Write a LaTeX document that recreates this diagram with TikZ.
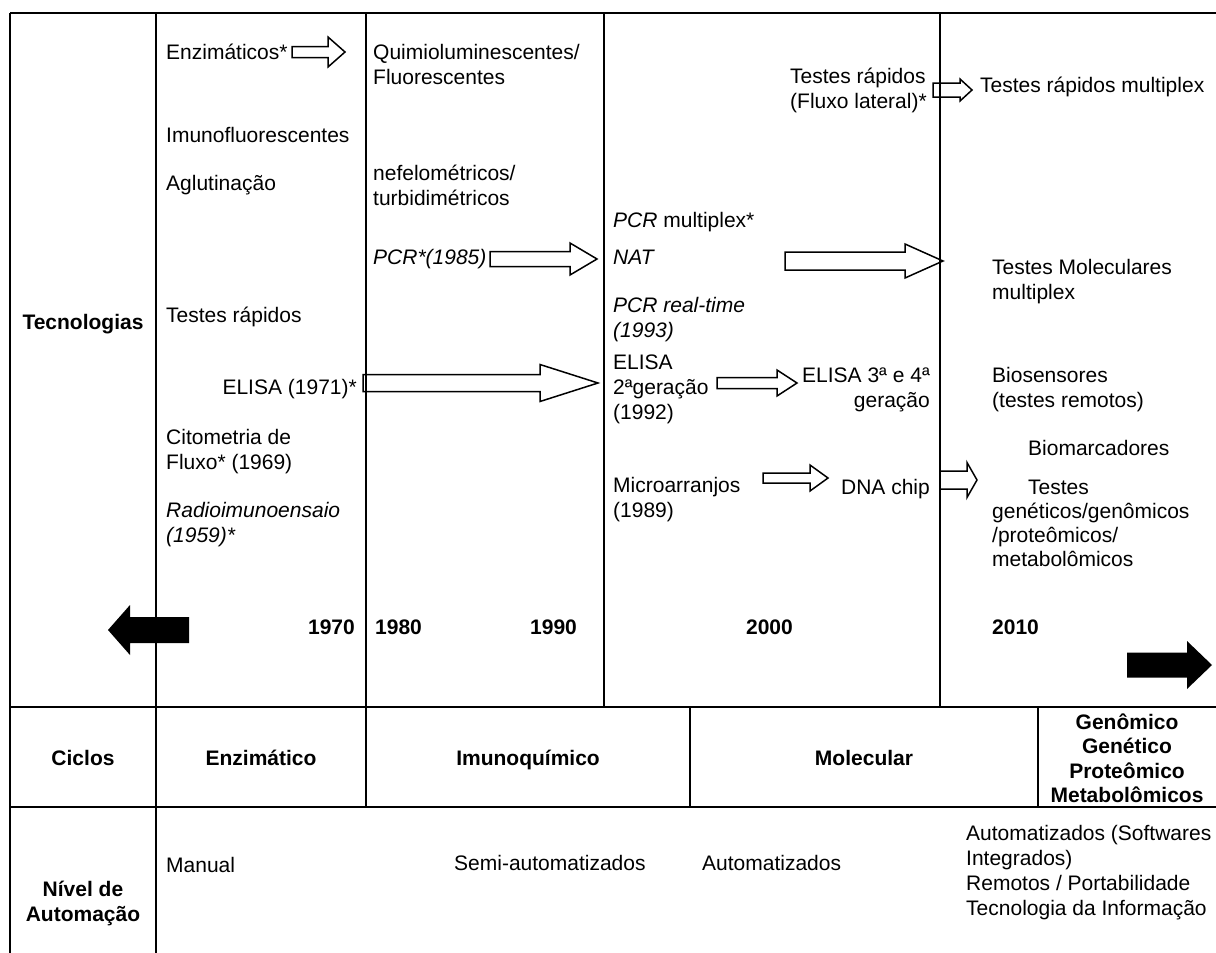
\documentclass[tikz,border=0pt]{standalone}
\usepackage{fontspec}
\setmainfont{Liberation Sans}
\tikzset{
  txt/.style={inner sep=0pt, font=\fontsize{21}{25}\selectfont, align=left},
  btxt/.style={inner sep=0pt, font=\fontsize{21}{24.5}\selectfont\bfseries, align=center},
  rule/.style={line width=2.5pt},
  harrow/.style={draw=black, line width=1.5pt, fill=white, line join=miter},
  farrow/.style={fill=black, draw=none},
}
\newcommand\blockarrow[7][harrow]{%
  \draw[#1] (#2,{#4-(#5)}) -- ({#3-(#7)},{#4-(#5)}) -- ({#3-(#7)},{#4-(#6)}) -- (#3,#4)
    -- ({#3-(#7)},{#4+(#6)}) -- ({#3-(#7)},{#4+(#5)}) -- (#2,{#4+(#5)}) -- cycle;}
\begin{document}
\begin{tikzpicture}[x=1pt,y=-1pt]
\useasboundingbox[fill=white] (0,0) rectangle (1216,953);

% ---------- block arrows ----------
\blockarrow{292}{345}{52}{5.5}{15}{17}
\blockarrow{490}{597}{259}{7.5}{16}{27}
\blockarrow{363}{598}{383}{8.5}{18.5}{58}
\blockarrow{933}{972}{90}{7}{11}{12}
\blockarrow{785}{943}{261}{9}{17}{38}
\blockarrow{717}{797}{383}{5.5}{13}{20}
\blockarrow{763}{828}{478}{5}{13}{18}
\blockarrow{940}{977}{480}{9}{17.5}{10}
\blockarrow[farrow]{1127}{1212}{665}{12.5}{24}{25}
\blockarrow[farrow]{189}{108}{630}{13}{25}{-22}

% ---------- grid ----------
\draw[rule] (10,13) -- (1216,13);
\draw[rule] (10,13) -- (10,953);
\draw[rule] (156,13) -- (156,953);
\draw[rule] (366,13) -- (366,807);
\draw[rule] (604,13) -- (604,707);
\draw[rule] (940,13) -- (940,707);
\draw[rule] (10,707) -- (1216,707);
\draw[rule] (10,807) -- (1216,807);
\draw[rule] (690,707) -- (690,807);
\draw[rule] (1038,707) -- (1038,807);

% ---------- Tecnologias row ----------
\node[btxt, anchor=base] (tec) at (83,329) {Tecnologias};
\node[txt, anchor=base west] (enz) at (166,59.5) {Enzimáticos*};
\node[txt, anchor=base west] (imf) at (166,142.5) {Imunofluorescentes};
\node[txt, anchor=base west] (agl) at (166,190.5) {Aglutinação};
\node[txt, anchor=base west] (tr) at (166,322.5) {Testes rápidos};
\node[txt, anchor=base east] (eli) at (357,394.5) {ELISA (1971)*};
\node[txt, anchor=base west] (cit) at (166,469.5) {Citometria de\\Fluxo* (1969)};
\node[txt, anchor=base west, font=\fontsize{21}{25}\selectfont\itshape] (ria) at (166,542.5) {Radioimunoensaio\\(1959)*};
\node[btxt, anchor=base east] (y70) at (355,634.5) {1970};

\node[txt, anchor=base west] (qui) at (373,84) {Quimioluminescentes/\\Fluorescentes};
\node[txt, anchor=base west] (nef) at (373,205) {nefelométricos/\\turbidimétricos};
\node[txt, anchor=base west, font=\fontsize{21}{25}\selectfont\itshape] (pcr85) at (373,264.5) {PCR*(1985)};
\node[btxt, anchor=base west] (y80) at (375,634.5) {1980};
\node[btxt, anchor=base west] (y90) at (530,634.5) {1990};

\node[txt, anchor=base west] (pcrm) at (613,227.5) {\textit{PCR} multiplex*};
\node[txt, anchor=base west, font=\fontsize{21}{25}\selectfont\itshape] (nat) at (613,264.5) {NAT};
\node[txt, anchor=base west, font=\fontsize{21}{25}\selectfont\itshape] (pcrrt) at (613,337.5) {PCR real-time\\(1993)};
\node[txt, anchor=base west] (eli2) at (613,419.5) {ELISA\\2ªgeração\\(1992)};
\node[txt, anchor=base east, align=right] (eli34) at (930,407.5) {ELISA 3ª e 4ª\\geração};
\node[txt, anchor=base west] (micro) at (613,517.5) {Microarranjos\\(1989)};
\node[txt, anchor=base east] (dna) at (930,494.5) {DNA chip};
\node[btxt, anchor=base east] (y00) at (793,634.5) {2000};
\node[txt, anchor=base west] (trfl) at (790,108) {Testes rápidos\\(Fluxo lateral)*};

\node[txt, anchor=base west] (trm) at (980,92.5) {Testes rápidos multiplex};
\node[txt, anchor=base west] (tmm) at (992,299.5) {Testes Moleculares\\multiplex};
\node[txt, anchor=base west] (bios) at (992,407.5) {Biosensores\\(testes remotos)};
\node[txt, anchor=base west] (biom) at (1028,455.5) {Biomarcadores};
\node[txt, anchor=base west, font=\fontsize{21}{24}\selectfont] (tgen) at (992,566.5) {\hspace*{36pt}Testes\\genéticos/genômicos\\/proteômicos/\\metabolômicos};
\node[btxt, anchor=base west] (y10) at (992,634.5) {2010};

% ---------- Ciclos row ----------
\node[btxt, anchor=base] (cic) at (83,765.5) {Ciclos};
\node[btxt, anchor=base] (cenz) at (261,765.5) {Enzimático};
\node[btxt, anchor=base] (cimu) at (528,765.5) {Imunoquímico};
\node[btxt, anchor=base] (cmol) at (864,765.5) {Molecular};
\node[btxt, anchor=base] (cgen) at (1127,802.5) {Genômico\\Genético\\Proteômico\\Metabolômicos};

% ---------- Nivel row ----------
\node[btxt, anchor=base] (niv) at (83,921) {Nível de\\Automação};
\node[txt, anchor=base west] (man) at (166,872.5) {Manual};
\node[txt, anchor=base west] (semi) at (454,870.5) {Semi-automatizados};
\node[txt, anchor=base west] (aut) at (702,870.5) {Automatizados};
\node[txt, anchor=base west] (auts) at (966,915.5) {Automatizados (Softwares\\Integrados)\\Remotos / Portabilidade\\Tecnologia da Informação};
\end{tikzpicture}
\end{document}
